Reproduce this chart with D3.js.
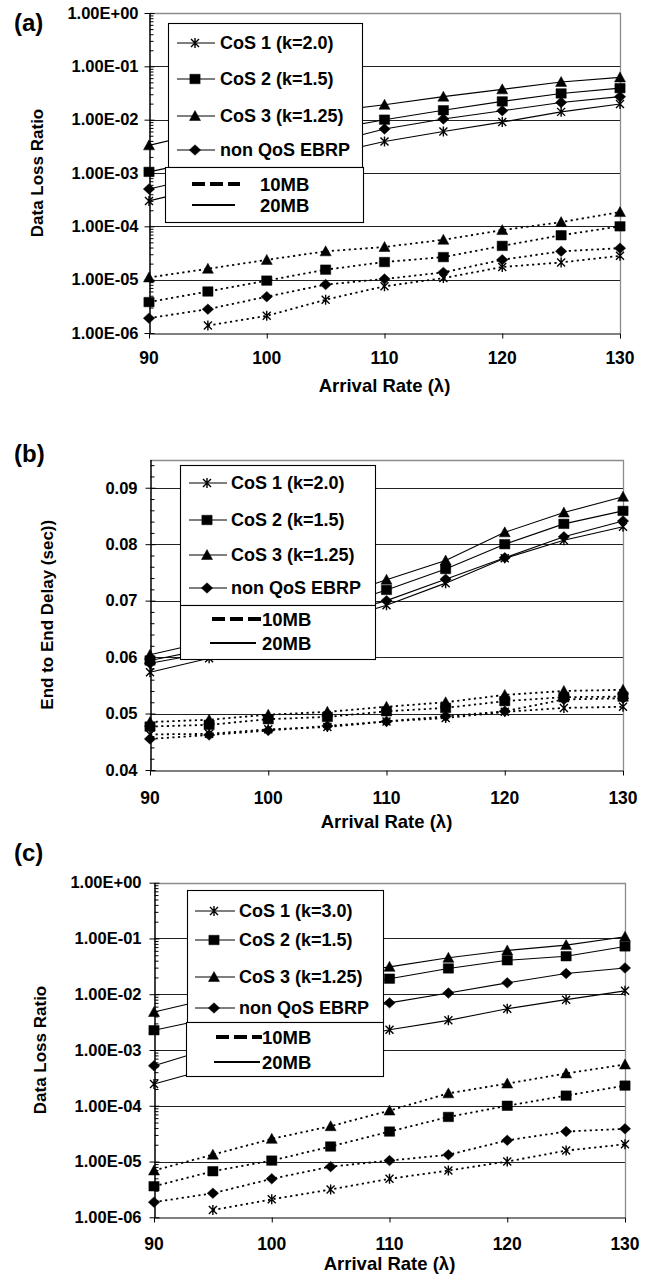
<!DOCTYPE html>
<html><head><meta charset="utf-8">
<script src="https://cdn.jsdelivr.net/npm/d3@7"></script>
<style>
body{margin:0;background:#fff}
svg{display:block}
text{font-family:"Liberation Sans",Arial,sans-serif;font-weight:bold;fill:#000}
</style></head>
<body><svg id="chart" width="658" height="1276"></svg>
<script>
// ---------------- DATA ----------------
const arrivalRates = [90, 95, 100, 105, 110, 115, 120, 125, 130];
const xTickValues = [90, 100, 110, 120, 130];
const logTickValues = [1e-6, 1e-5, 1e-4, 1e-3, 1e-2, 1e-1, 1];
const logTickLabels = ["1.00E-06", "1.00E-05", "1.00E-04", "1.00E-03", "1.00E-02", "1.00E-01", "1.00E+00"];
const delayTickValues = [0.04, 0.05, 0.06, 0.07, 0.08, 0.09];
const delayTickLabels = ["0.04", "0.05", "0.06", "0.07", "0.08", "0.09"];
const legendLabelsAB = ["CoS 1 (k=2.0)", "CoS 2 (k=1.5)", "CoS 3 (k=1.25)", "non QoS EBRP"];
const legendLabelsC = ["CoS 1 (k=3.0)", "CoS 2 (k=1.5)", "CoS 3 (k=1.25)", "non QoS EBRP"];
const bufferLabels = ["10MB", "20MB"];

// (a) Data loss ratio
const lossA_cos1_20MB = [3.0e-4, 5.5e-4, 1.1e-3, 2.2e-3, 3.9e-3, 6.0e-3, 9.0e-3, 1.4e-2, 1.97e-2];
const lossA_cos2_20MB = [1.05e-3, 1.8e-3, 3.3e-3, 6.3e-3, 1.0e-2, 1.5e-2, 2.2e-2, 3.1e-2, 3.9e-2];
const lossA_cos3_20MB = [3.3e-3, 6.0e-3, 9.5e-3, 1.4e-2, 1.9e-2, 2.7e-2, 3.7e-2, 5.1e-2, 6.2e-2];
const lossA_non_20MB  = [5.0e-4, 9.0e-4, 1.8e-3, 3.5e-3, 6.7e-3, 1.03e-2, 1.47e-2, 2.1e-2, 2.7e-2];
const lossA_cos1_10MB = [null, 1.38e-6, 2.1e-6, 4.2e-6, 7.5e-6, 1.07e-5, 1.73e-5, 2.1e-5, 2.8e-5];
const lossA_cos2_10MB = [3.8e-6, 6.0e-6, 9.6e-6, 1.54e-5, 2.14e-5, 2.65e-5, 4.3e-5, 6.8e-5, 1.0e-4];
const lossA_cos3_10MB = [1.1e-5, 1.6e-5, 2.35e-5, 3.4e-5, 4.1e-5, 5.6e-5, 8.5e-5, 1.2e-4, 1.85e-4];
const lossA_non_10MB  = [1.9e-6, 2.8e-6, 4.8e-6, 8.1e-6, 1.03e-5, 1.37e-5, 2.36e-5, 3.4e-5, 3.9e-5];

// (b) End to end delay (sec)
const delayB_cos1_20MB = [0.0573, 0.0598, 0.0628, 0.0660, 0.0692, 0.0731, 0.0775, 0.0807, 0.0831];
const delayB_cos2_20MB = [0.0594, 0.0615, 0.0650, 0.0685, 0.0719, 0.0756, 0.0800, 0.0836, 0.0859];
const delayB_cos3_20MB = [0.0604, 0.0628, 0.0665, 0.0702, 0.0737, 0.0771, 0.0821, 0.0856, 0.0884];
const delayB_non_20MB  = [0.0589, 0.0608, 0.0640, 0.0672, 0.0700, 0.0738, 0.0776, 0.0813, 0.0841];
const delayB_cos1_10MB = [0.0463, 0.0464, 0.0472, 0.0476, 0.0486, 0.0492, 0.0503, 0.0510, 0.0512];
const delayB_cos2_10MB = [0.0477, 0.0480, 0.0490, 0.0494, 0.0504, 0.0510, 0.0522, 0.0529, 0.0530];
const delayB_cos3_10MB = [0.0485, 0.0489, 0.0498, 0.0503, 0.0512, 0.0520, 0.0533, 0.0540, 0.0542];
const delayB_non_10MB  = [0.0455, 0.0462, 0.0470, 0.0478, 0.0486, 0.0495, 0.0504, 0.0525, 0.0527];

// (c) Data loss ratio, k=3.0
const lossC_cos1_20MB = [2.45e-4, 4.8e-4, 8.5e-4, 1.4e-3, 2.3e-3, 3.4e-3, 5.5e-3, 8.0e-3, 1.15e-2];
const lossC_cos2_20MB = [2.26e-3, 3.8e-3, 6.5e-3, 1.1e-2, 1.9e-2, 2.9e-2, 4.06e-2, 4.8e-2, 7.2e-2];
const lossC_cos3_20MB = [4.8e-3, 8.5e-3, 1.4e-2, 2.1e-2, 3.1e-2, 4.5e-2, 6.1e-2, 7.6e-2, 1.07e-1];
const lossC_non_20MB  = [5.2e-4, 1.1e-3, 2.2e-3, 4.0e-3, 7.0e-3, 1.05e-2, 1.6e-2, 2.35e-2, 2.96e-2];
const lossC_cos1_10MB = [null, 1.35e-6, 2.1e-6, 3.15e-6, 4.9e-6, 6.9e-6, 1.0e-5, 1.57e-5, 2.04e-5];
const lossC_cos2_10MB = [3.6e-6, 6.7e-6, 1.04e-5, 1.86e-5, 3.45e-5, 6.3e-5, 1.0e-4, 1.52e-4, 2.3e-4];
const lossC_cos3_10MB = [6.9e-6, 1.33e-5, 2.55e-5, 4.3e-5, 8.2e-5, 1.67e-4, 2.5e-4, 3.8e-4, 5.5e-4];
const lossC_non_10MB  = [1.87e-6, 2.7e-6, 4.9e-6, 8.1e-6, 1.04e-5, 1.32e-5, 2.4e-5, 3.45e-5, 3.86e-5];

// ---------------- MARKERS ----------------
const symStar = {draw(ctx, size){ const r = Math.sqrt(size)/2, q = r*0.8;
  ctx.moveTo(0,-r); ctx.lineTo(0,r); ctx.moveTo(-q,-q); ctx.lineTo(q,q); ctx.moveTo(-q,q); ctx.lineTo(q,-q);} };
const symSquare = {draw(ctx, size){ const r = Math.sqrt(size)/2; ctx.rect(-r*1.08,-r,2.16*r,2*r);} };
const symTri = {draw(ctx, size){ const r = Math.sqrt(size)/2; ctx.moveTo(0,-r*1.1); ctx.lineTo(r*1.1,r*0.9); ctx.lineTo(-r*1.1,r*0.9); ctx.closePath();} };
const symDiamond = {draw(ctx, size){ const r = Math.sqrt(size)/2; ctx.moveTo(0,-r); ctx.lineTo(r*1.08,0); ctx.lineTo(0,r); ctx.lineTo(-r*1.08,0); ctx.closePath();} };
const markerDefs = [
  {type: symStar, size: 100, stroke: true},
  {type: symSquare, size: 90, stroke: false},
  {type: symTri, size: 100, stroke: false},
  {type: symDiamond, size: 110, stroke: false}
];

// ---------------- PANELS ----------------
const svg = d3.select("#chart");
const panels = [
  { label:"(a)", labelY:31, log:true, x0:149, x1:620, yTop:13, yBot:333,
    yTitle:"Data Loss Ratio", yTitleX:37, xTitleY:392, xLabelY:364, yLabelGap:11,
    s20:[lossA_cos1_20MB, lossA_cos2_20MB, lossA_cos3_20MB, lossA_non_20MB],
    s10:[lossA_cos1_10MB, lossA_cos2_10MB, lossA_cos3_10MB, lossA_non_10MB],
    legendLabels: legendLabelsAB,
    lg:{ up:[168,23,362,167], low:[165,167,363,222], rows:[43,79,116,150], sx:[177,215], mx:195, tx:220,
         lrows:[184,205], dash:[192,240], solid:[192,235], ltx:260 } },
  { label:"(b)", labelY:462, log:false, x0:150, x1:623, yTop:459.5, yBot:770,
    yTitle:"End to End Delay (sec))", yTitleX:47, xTitleY:828, xLabelY:804, yLabelGap:13,
    s20:[delayB_cos1_20MB, delayB_cos2_20MB, delayB_cos3_20MB, delayB_non_20MB],
    s10:[delayB_cos1_10MB, delayB_cos2_10MB, delayB_cos3_10MB, delayB_non_10MB],
    legendLabels: legendLabelsAB,
    lg:{ up:[180,465,375,605], low:[180,605,375,659], rows:[483,520,555,588], sx:[189,227], mx:207, tx:231,
         lrows:[619,643], dash:[212,262], solid:[210,256], ltx:262 } },
  { label:"(c)", labelY:861, log:true, x0:154, x1:625, yTop:882.7, yBot:1217.3,
    yTitle:"Data Loss Ratio", yTitleX:40, xTitleY:1270, xLabelY:1250, yLabelGap:13,
    s20:[lossC_cos1_20MB, lossC_cos2_20MB, lossC_cos3_20MB, lossC_non_20MB],
    s10:[lossC_cos1_10MB, lossC_cos2_10MB, lossC_cos3_10MB, lossC_non_10MB],
    legendLabels: legendLabelsC,
    lg:{ up:[187,890,383,1022], low:[186,1022,383,1076], rows:[911,940,977,1008], sx:[195,235], mx:214, tx:239,
         lrows:[1037,1062], dash:[216,262], solid:[214,260], ltx:262 } }
];

panels.forEach(drawPanel);

function drawPanel(p){
  const g = svg.append("g");
  const x = d3.scaleLinear().domain([90,130]).range([p.x0,p.x1]);
  const y = p.log ? d3.scaleLog().domain([1e-6,1]).range([p.yBot,p.yTop])
                  : d3.scaleLinear().domain([0.04,0.095]).range([p.yBot,p.yTop]);
  const majors = p.log ? logTickValues : delayTickValues;
  const labels = p.log ? logTickLabels : delayTickLabels;
  const crisp = v => Math.round(v) + 0.5;

  // gridlines
  g.append("g").selectAll("line").data(majors.slice(1).filter(v => p.log ? v < 1 : true)).join("line")
    .attr("x1", p.x0).attr("x2", p.x1)
    .attr("y1", d => crisp(y(d))).attr("y2", d => crisp(y(d)))
    .attr("stroke", "#222").attr("stroke-width", 1);
  // top & right border (grey)
  g.append("path")
    .attr("d", `M${p.x0},${crisp(p.yTop)}H${crisp(p.x1)}V${p.yBot}`)
    .attr("fill","none").attr("stroke","#8c8c8c").attr("stroke-width",1.3);

  // series
  const line = d3.line().defined(d => d[1] != null).x(d => x(d[0])).y(d => y(d[1]));
  const allSeries = [];
  p.s10.forEach((vals,i) => allSeries.push({vals, i, dotted:true}));
  p.s20.forEach((vals,i) => allSeries.push({vals, i, dotted:false}));
  allSeries.forEach(s => {
    const pts = arrivalRates.map((l,k) => [l, s.vals[k]]);
    g.append("path").datum(pts).attr("d", line)
      .attr("fill","none").attr("stroke","#000")
      .attr("stroke-width", s.dotted ? 1.8 : 1.1)
      .attr("stroke-dasharray", s.dotted ? "2.2,3.4" : null);
    const m = markerDefs[s.i];
    g.append("g").selectAll("path").data(pts.filter(d => d[1] != null)).join("path")
      .attr("transform", d => `translate(${x(d[0])},${y(d[1])})`)
      .attr("d", d3.symbol(m.type, m.size))
      .attr("fill", m.stroke ? "none" : "#000")
      .attr("stroke", "#000").attr("stroke-width", m.stroke ? 1.4 : 0.5);
  });

  // legend
  const L = p.lg;
  [L.up, L.low].forEach(r => {
    g.append("rect").attr("x", r[0]+0.5).attr("y", r[1]+0.5).attr("width", r[2]-r[0]).attr("height", r[3]-r[1])
      .attr("fill","#fff").attr("stroke","#000").attr("stroke-width",1.1);
  });
  p.legendLabels.forEach((lab,i) => {
    const yy = L.rows[i];
    g.append("line").attr("x1",L.sx[0]).attr("x2",L.sx[1]).attr("y1",yy).attr("y2",yy).attr("stroke","#000").attr("stroke-width",1.1);
    const m = markerDefs[i];
    g.append("path").attr("transform",`translate(${L.mx},${yy})`).attr("d", d3.symbol(m.type, m.size))
      .attr("fill", m.stroke ? "none" : "#000").attr("stroke","#000").attr("stroke-width", m.stroke ? 1.4 : 0.5);
    g.append("text").attr("x",L.tx).attr("y",yy).attr("dy","0.36em").attr("font-size",18).text(lab);
  });
  g.append("line").attr("x1",L.dash[0]).attr("x2",L.dash[1]).attr("y1",L.lrows[0]).attr("y2",L.lrows[0])
    .attr("stroke","#000").attr("stroke-width",4).attr("stroke-dasharray","13,5");
  g.append("line").attr("x1",L.solid[0]).attr("x2",L.solid[1]).attr("y1",L.lrows[1]).attr("y2",L.lrows[1])
    .attr("stroke","#000").attr("stroke-width",2);
  bufferLabels.forEach((lab,i) => {
    g.append("text").attr("x",L.ltx).attr("y",L.lrows[i]).attr("dy","0.36em").attr("font-size",18.5).text(lab);
  });

  // y axis
  const yAxis = d3.axisLeft(y).tickValues(majors).tickSize(5).tickSizeOuter(0).tickPadding(p.yLabelGap - 5)
    .tickFormat((d,i) => labels[i]);
  const ya = g.append("g").attr("transform",`translate(${crisp(p.x0)},0)`).call(yAxis);
  ya.attr("font-family",null).attr("font-size",null);
  ya.selectAll("text").attr("font-size",16.5);
  // major ticks crossing inside
  g.append("g").attr("transform",`translate(${crisp(p.x0)},0)`)
    .call(d3.axisRight(y).tickValues(majors).tickSize(5).tickSizeOuter(0).tickFormat(""));
  // minor ticks inside
  let minors = [];
  if (p.log) { for (let e=-6; e<0; e++) for (let k=2; k<=9; k++) minors.push(k*Math.pow(10,e)); }
  else { for (let v=0.042; v<0.0951; v+=0.002) { const r = Math.round(v*1000)/1000; if (Math.round(r*1000)%10 !== 0) minors.push(r); } }
  g.append("g").attr("transform",`translate(${crisp(p.x0)},0)`)
    .call(d3.axisRight(y).tickValues(minors).tickSize(4).tickSizeOuter(0).tickFormat(""))
    .select(".domain").remove();

  // x axis
  g.append("g").attr("transform",`translate(0,${crisp(p.yBot)})`)
    .call(d3.axisBottom(x).tickValues(xTickValues).tickSize(5).tickSizeOuter(0).tickFormat(""));
  g.append("g").selectAll("text").data(xTickValues).join("text")
    .attr("x", d => x(d)).attr("y", p.xLabelY).attr("text-anchor","middle").attr("font-size",17.5).text(d => d);
  svg.selectAll(".domain").attr("stroke","#000");

  // titles
  g.append("text").attr("x",(p.x0+p.x1)/2).attr("y",p.xTitleY).attr("text-anchor","middle").attr("font-size",18.5)
    .text("Arrival Rate (\u03bb)");
  g.append("text").attr("transform",`translate(${p.yTitleX},${(p.yTop+p.yBot)/2}) rotate(-90)`)
    .attr("text-anchor","middle").attr("dy","0.36em").attr("font-size",17).text(p.yTitle);
  g.append("text").attr("x",14).attr("y",p.labelY).attr("font-size",24).text(p.label);
}
</script>
</body></html>
